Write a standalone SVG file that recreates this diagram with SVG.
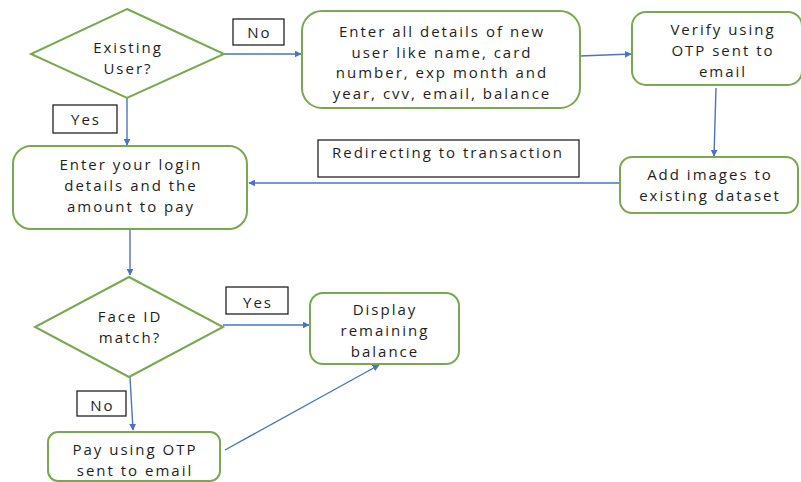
<svg xmlns="http://www.w3.org/2000/svg" width="801" height="482" viewBox="0 0 801 482">
<defs>
<style>
.node{fill:#ffffff;stroke:#7aa84f;stroke-width:2}
.t{font-family:"Open Sans","Noto Sans",sans-serif;font-size:15px;letter-spacing:2px;fill:#1e1e1e;text-anchor:middle}
.lbl{fill:#ffffff;stroke:#222222;stroke-width:1.3}
.c{stroke:#4a74c0;stroke-width:1.4;fill:none;marker-end:url(#ah)}
</style>
<marker id="ah" viewBox="0 0 10 10" refX="9" refY="5" markerWidth="7" markerHeight="7" orient="auto" markerUnits="userSpaceOnUse">
<path d="M0,0 L10,5 L0,10 z" fill="#4a74c0"/>
</marker>
</defs>
<rect width="801" height="482" fill="#ffffff"/>
<g id="connectors">
<line class="c" x1="224" y1="54" x2="301" y2="54"/>
<line class="c" x1="580" y1="56" x2="631" y2="54"/>
<line class="c" x1="716" y1="88" x2="714" y2="156"/>
<line class="c" x1="620" y1="183" x2="249" y2="183"/>
<line class="c" x1="127" y1="98" x2="127" y2="145"/>
<line class="c" x1="130" y1="229" x2="130" y2="275"/>
<line class="c" x1="223" y1="325" x2="309" y2="325"/>
<line class="c" x1="130" y1="377" x2="133" y2="430"/>
<line class="c" x1="225" y1="450" x2="379" y2="365"/>
</g>
<g id="label-no1"><rect class="lbl" x="233" y="19" width="51" height="26"/><text class="t" x="259.5" y="38">No</text></g>
<g id="label-yes1"><rect class="lbl" x="53" y="105" width="64" height="28"/><text class="t" x="86" y="125">Yes</text></g>
<g id="label-redirect"><rect class="lbl" x="318" y="140" width="261" height="37"/><text class="t" x="448" y="158">Redirecting to transaction</text></g>
<g id="label-yes2"><rect class="lbl" x="226" y="287" width="62" height="27"/><text class="t" x="258" y="308">Yes</text></g>
<g id="label-no2"><rect class="lbl" x="77" y="391" width="49" height="25"/><text class="t" x="102.5" y="411">No</text></g>
<g id="existing-user">
<polygon class="node" points="127,9 224,54 127,98 31,54"/>
<text class="t" x="128" y="53">Existing</text>
<text class="t" x="128" y="74">User?</text>
</g>
<g id="new-user">
<rect class="node" x="302" y="11" width="278" height="97" rx="20"/>
<text class="t" x="442" y="37">Enter all details of new</text>
<text class="t" x="442" y="57.5">user like name, card</text>
<text class="t" x="442" y="78">number, exp month and</text>
<text class="t" x="442" y="98.5">year, cvv, email, balance</text>
</g>
<g id="verify">
<rect class="node" x="632" y="12" width="170" height="73" rx="14"/>
<text class="t" x="723" y="35">Verify using</text>
<text class="t" x="723" y="56">OTP sent to</text>
<text class="t" x="723" y="77">email</text>
</g>
<g id="add-images">
<rect class="node" x="620" y="157" width="178" height="56" rx="12"/>
<text class="t" x="710" y="180">Add images to</text>
<text class="t" x="710" y="201">existing dataset</text>
</g>
<g id="login">
<rect class="node" x="13" y="146" width="234" height="83" rx="18"/>
<text class="t" x="131" y="170">Enter your login</text>
<text class="t" x="131" y="191">details and the</text>
<text class="t" x="131" y="212">amount to pay</text>
</g>
<g id="face-id">
<polygon class="node" points="129,277 223,327 129,377 35,327"/>
<text class="t" x="130" y="322">Face ID</text>
<text class="t" x="130" y="343">match?</text>
</g>
<g id="display-balance">
<rect class="node" x="310" y="293" width="149" height="71" rx="13"/>
<text class="t" x="385" y="315">Display</text>
<text class="t" x="385" y="336">remaining</text>
<text class="t" x="385" y="357">balance</text>
</g>
<g id="pay-otp">
<rect class="node" x="48" y="432" width="172" height="49" rx="10"/>
<text class="t" x="135" y="455">Pay using OTP</text>
<text class="t" x="135" y="476">sent to email</text>
</g>
</svg>
